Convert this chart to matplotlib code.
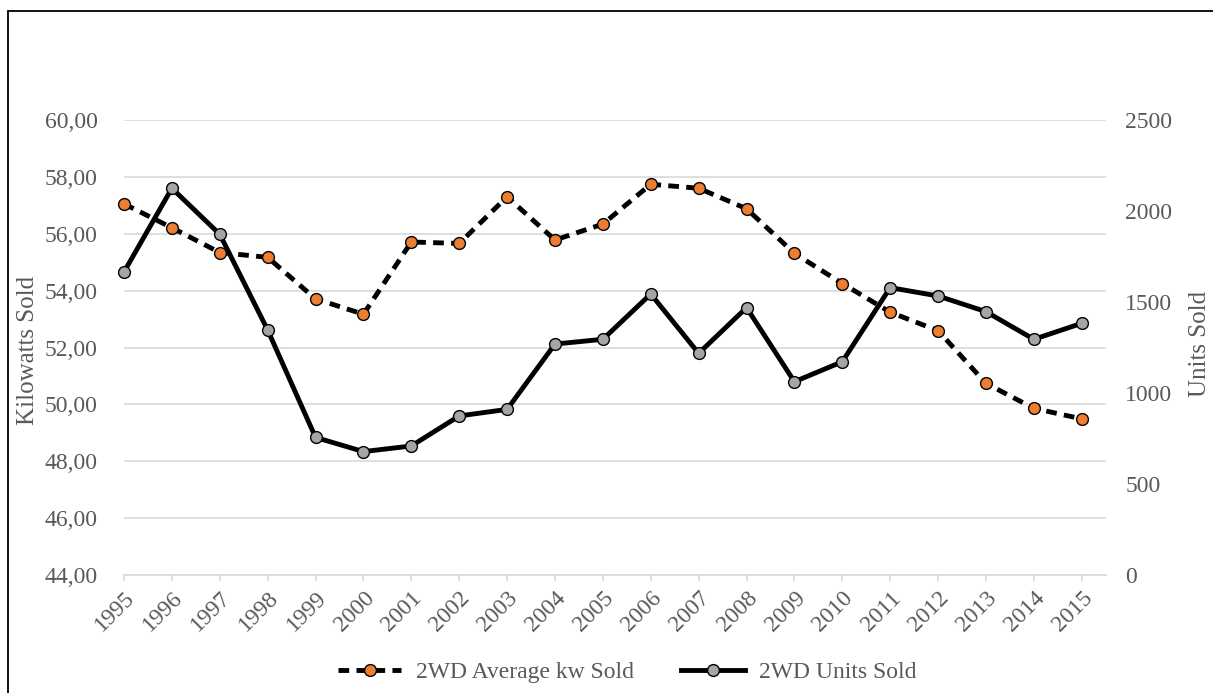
import numpy as np
import matplotlib
matplotlib.use("Agg")
import matplotlib.pyplot as plt
from matplotlib.patches import Rectangle

plt.rcParams['font.family'] = ['Liberation Serif', 'DejaVu Serif']

years = [str(y) for y in range(1995, 2016)]
kw_sold = [57.05, 56.21, 55.34, 55.17, 53.71, 53.17, 55.71, 55.66, 57.30, 55.78,
           56.34, 57.74, 57.60, 56.88, 55.31, 54.25, 53.24, 52.59, 50.74, 49.86, 49.49]
units_sold = [1665, 2125, 1872, 1346, 756, 678, 709, 874, 910, 1269,
              1295, 1544, 1218, 1469, 1062, 1172, 1579, 1533, 1447, 1295, 1383]

kw_ticks = np.arange(44, 60.1, 2)
units_ticks = np.arange(0, 2501, 500)

text_col = '#595959'
grid_col = '#d9d9d9'
fs = 17

fig = plt.figure(figsize=(12.13, 6.93), dpi=100)
ax = fig.add_axes([124 / 1213, 1 - 575 / 693, (1105.7 - 124) / 1213, 455 / 693])
ax2 = ax.twinx()

x = np.arange(len(years))
l1, = ax.plot(x, kw_sold, color='black', lw=3.5, dashes=(2.2, 1.5),
              marker='o', ms=8.5, mfc='#ed7d31', mec='black', mew=1.0,
              label='2WD Average kw Sold', zorder=3, clip_on=False)
l2, = ax2.plot(x, units_sold, color='black', lw=3.5,
               marker='o', ms=8.5, mfc='#a5a5a5', mec='black', mew=1.0,
               label='2WD Units Sold', zorder=3, clip_on=False)

ax.set_xlim(0, 20.5)
ax.set_ylim(44, 60)
ax2.set_ylim(0, 2500)
ax.set_yticks(kw_ticks)
ax.set_yticklabels([f"{v:.2f}".replace('.', ',') for v in kw_ticks])
ax2.set_yticks(units_ticks)
ax2.set_yticklabels([str(v) for v in units_ticks])

ax.yaxis.grid(True, color=grid_col, lw=1.2)
ax.set_axisbelow(True)
for a in (ax, ax2):
    for s in a.spines.values():
        s.set_visible(False)
ax.spines['bottom'].set_visible(True)
ax.spines['bottom'].set_color(grid_col)
ax.spines['bottom'].set_linewidth(1.2)

ax.set_xticks(x)
ax.set_xticklabels(years, rotation=45, ha='right', rotation_mode='anchor')
ax.tick_params(axis='x', length=4, color=grid_col, width=1.2, labelsize=fs,
               labelcolor=text_col, pad=5)
ax.tick_params(axis='y', length=0, labelsize=fs, labelcolor=text_col, pad=19)
ax2.tick_params(axis='y', length=0, labelsize=fs, labelcolor=text_col, pad=14)

fig.text(28 / 1213, 1 - 350 / 693, 'Kilowatts Sold', rotation=90, ha='center',
         va='center', fontsize=fs + 1, color=text_col)
fig.text(1200 / 1213, 1 - 344 / 693, 'Units Sold', rotation=90, ha='center',
         va='center', fontsize=fs + 1, color=text_col)

fig.legend(handles=[l1, l2], loc='center', bbox_to_anchor=(627 / 1213, 1 - 672 / 693),
           ncol=2, frameon=False, fontsize=fs, handlelength=2.7,
           handletextpad=0.6, columnspacing=2.0, labelcolor=text_col)

# outer chart border (only top and left visible in the crop)
fig.patches.append(Rectangle((8 / 1213, -0.1), 2, 1.1 - 11 / 693,
                             transform=fig.transFigure, fill=False,
                             edgecolor='black', lw=1.3))

fig.savefig('out.png', dpi=100)
